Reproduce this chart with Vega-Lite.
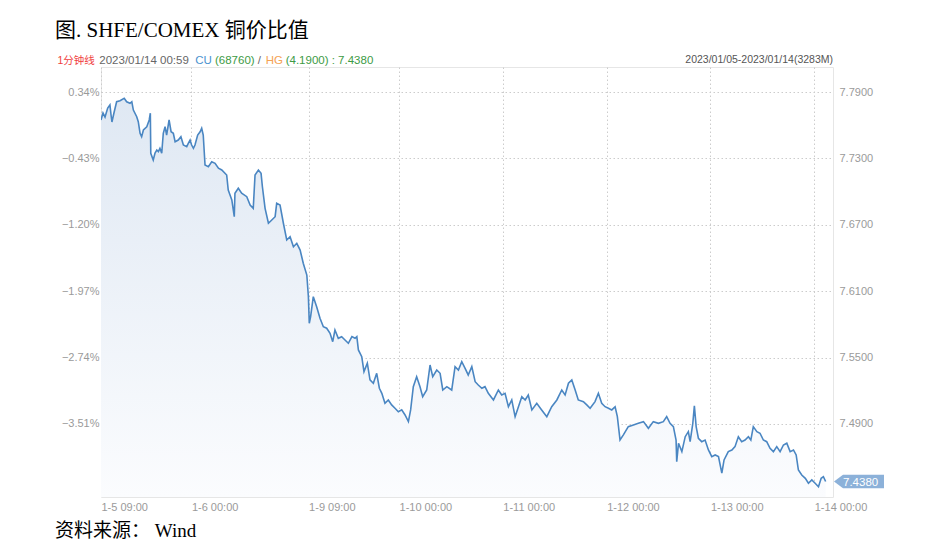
{
  "$schema": "https://vega.github.io/schema/vega-lite/v6.json",
  "width": 732,
  "height": 430,
  "autosize": "none",
  "padding": {"left": 101, "top": 67, "right": 107, "bottom": 60},
  "background": "white",
  "config": {"view": {"stroke": "#e6e6e6"}, "font": "Liberation Sans"},
  "data": {"values": [
    {"m":0,"v":7.7647},{"m":9,"v":7.7710},{"m":18,"v":7.7674},{"m":30,"v":7.7755},{"m":40,"v":7.7783},{"m":45,"v":7.7692},{"m":49,"v":7.7629},{"m":58,"v":7.7710},{"m":70,"v":7.7812},{"m":85,"v":7.7821},{"m":104,"v":7.7843},{"m":115,"v":7.7812},{"m":130,"v":7.7798},{"m":138,"v":7.7812},{"m":145,"v":7.7737},{"m":160,"v":7.7677},{"m":167,"v":7.7632},{"m":175,"v":7.7527},{"m":182,"v":7.7496},{"m":190,"v":7.7557},{"m":205,"v":7.7586},{"m":216,"v":7.7647},{"m":221,"v":7.7708},{"m":223,"v":7.7346},{"m":234,"v":7.7286},{"m":242,"v":7.7349},{"m":250,"v":7.7376},{"m":257,"v":7.7361},{"m":264,"v":7.7391},{"m":272,"v":7.7346},{"m":279,"v":7.7527},{"m":287,"v":7.7586},{"m":294,"v":7.7511},{"m":305,"v":7.7647},{"m":314,"v":7.7541},{"m":324,"v":7.7527},{"m":332,"v":7.7451},{"m":346,"v":7.7466},{"m":358,"v":7.7496},{"m":369,"v":7.7421},{"m":384,"v":7.7406},{"m":391,"v":7.7436},{"m":399,"v":7.7466},{"m":406,"v":7.7421},{"m":414,"v":7.7391},{"m":421,"v":7.7421},{"m":433,"v":7.7511},{"m":444,"v":7.7541},{"m":451,"v":7.7572},{"m":458,"v":7.7511},{"m":466,"v":7.7240},{"m":481,"v":7.7225},{"m":496,"v":7.7270},{"m":511,"v":7.7256},{"m":526,"v":7.7211},{"m":541,"v":7.7195},{"m":563,"v":7.7150},{"m":570,"v":7.7014},{"m":578,"v":7.6969},{"m":586,"v":7.6924},{"m":597,"v":7.6773},{"m":600,"v":7.6985},{"m":615,"v":7.7030},{"m":630,"v":7.6985},{"m":653,"v":7.6954},{"m":668,"v":7.6879},{"m":682,"v":7.6849},{"m":690,"v":7.7150},{"m":705,"v":7.7195},{"m":717,"v":7.7165},{"m":723,"v":7.7044},{"m":735,"v":7.6849},{"m":750,"v":7.6714},{"m":765,"v":7.6743},{"m":780,"v":7.6773},{"m":787,"v":7.6894},{"m":802,"v":7.6879},{"m":817,"v":7.6714},{"m":832,"v":7.6563},{"m":847,"v":7.6593},{"m":862,"v":7.6502},{"m":877,"v":7.6533},{"m":892,"v":7.6472},{"m":906,"v":7.6352},{"m":922,"v":7.6246},{"m":929,"v":7.6050},{"m":933,"v":7.5810},{"m":939,"v":7.5870},{"m":951,"v":7.6050},{"m":966,"v":7.5960},{"m":981,"v":7.5855},{"m":996,"v":7.5779},{"m":1011,"v":7.5765},{"m":1026,"v":7.5720},{"m":1038,"v":7.5644},{"m":1048,"v":7.5749},{"m":1063,"v":7.5674},{"m":1078,"v":7.5689},{"m":1093,"v":7.5659},{"m":1108,"v":7.5629},{"m":1124,"v":7.5689},{"m":1138,"v":7.5674},{"m":1146,"v":7.5689},{"m":1153,"v":7.5569},{"m":1168,"v":7.5508},{"m":1178,"v":7.5373},{"m":1193,"v":7.5449},{"m":1205,"v":7.5298},{"m":1220,"v":7.5268},{"m":1235,"v":7.5358},{"m":1247,"v":7.5223},{"m":1258,"v":7.5177},{"m":1272,"v":7.5087},{"m":1287,"v":7.5117},{"m":1302,"v":7.5072},{"m":1317,"v":7.5042},{"m":1332,"v":7.5011},{"m":1347,"v":7.5027},{"m":1362,"v":7.4981},{"m":1377,"v":7.4921},{"m":1387,"v":7.5027},{"m":1399,"v":7.5237},{"m":1414,"v":7.5327},{"m":1429,"v":7.5237},{"m":1441,"v":7.5147},{"m":1459,"v":7.5207},{"m":1474,"v":7.5433},{"m":1486,"v":7.5327},{"m":1504,"v":7.5388},{"m":1519,"v":7.5358},{"m":1531,"v":7.5207},{"m":1549,"v":7.5237},{"m":1571,"v":7.5207},{"m":1586,"v":7.5418},{"m":1601,"v":7.5388},{"m":1616,"v":7.5463},{"m":1631,"v":7.5403},{"m":1645,"v":7.5343},{"m":1661,"v":7.5418},{"m":1676,"v":7.5282},{"m":1690,"v":7.5252},{"m":1706,"v":7.5223},{"m":1720,"v":7.5237},{"m":1735,"v":7.5177},{"m":1758,"v":7.5117},{"m":1780,"v":7.5207},{"m":1795,"v":7.5162},{"m":1810,"v":7.5177},{"m":1825,"v":7.5056},{"m":1840,"v":7.5117},{"m":1855,"v":7.4966},{"m":1870,"v":7.5056},{"m":1885,"v":7.5147},{"m":1900,"v":7.5117},{"m":1914,"v":7.5162},{"m":1930,"v":7.5027},{"m":1952,"v":7.5087},{"m":1974,"v":7.5027},{"m":1997,"v":7.4966},{"m":2019,"v":7.5056},{"m":2042,"v":7.5117},{"m":2064,"v":7.5207},{"m":2079,"v":7.5162},{"m":2094,"v":7.5268},{"m":2109,"v":7.5298},{"m":2124,"v":7.5207},{"m":2138,"v":7.5117},{"m":2161,"v":7.5102},{"m":2176,"v":7.5072},{"m":2191,"v":7.5042},{"m":2213,"v":7.5102},{"m":2228,"v":7.5177},{"m":2243,"v":7.5087},{"m":2258,"v":7.5056},{"m":2273,"v":7.5042},{"m":2288,"v":7.5027},{"m":2303,"v":7.5056},{"m":2313,"v":7.4966},{"m":2325,"v":7.4755},{"m":2340,"v":7.4801},{"m":2362,"v":7.4876},{"m":2385,"v":7.4891},{"m":2407,"v":7.4906},{"m":2430,"v":7.4921},{"m":2452,"v":7.4861},{"m":2474,"v":7.4921},{"m":2497,"v":7.4906},{"m":2519,"v":7.4921},{"m":2534,"v":7.4966},{"m":2549,"v":7.4906},{"m":2564,"v":7.4876},{"m":2576,"v":7.4755},{"m":2579,"v":7.4559},{"m":2587,"v":7.4726},{"m":2602,"v":7.4650},{"m":2617,"v":7.4785},{"m":2631,"v":7.4831},{"m":2639,"v":7.4740},{"m":2651,"v":7.4906},{"m":2658,"v":7.5063},{"m":2666,"v":7.4876},{"m":2676,"v":7.4771},{"m":2691,"v":7.4740},{"m":2706,"v":7.4755},{"m":2721,"v":7.4665},{"m":2736,"v":7.4605},{"m":2751,"v":7.4620},{"m":2766,"v":7.4605},{"m":2781,"v":7.4455},{"m":2791,"v":7.4575},{"m":2810,"v":7.4650},{"m":2826,"v":7.4665},{"m":2840,"v":7.4695},{"m":2855,"v":7.4785},{"m":2870,"v":7.4740},{"m":2885,"v":7.4755},{"m":2900,"v":7.4785},{"m":2911,"v":7.4755},{"m":2922,"v":7.4876},{"m":2938,"v":7.4831},{"m":2952,"v":7.4816},{"m":2967,"v":7.4755},{"m":2982,"v":7.4740},{"m":2997,"v":7.4680},{"m":3012,"v":7.4650},{"m":3027,"v":7.4695},{"m":3042,"v":7.4650},{"m":3057,"v":7.4710},{"m":3072,"v":7.4726},{"m":3087,"v":7.4650},{"m":3102,"v":7.4665},{"m":3114,"v":7.4620},{"m":3124,"v":7.4484},{"m":3139,"v":7.4439},{"m":3155,"v":7.4409},{"m":3169,"v":7.4364},{"m":3184,"v":7.4394},{"m":3199,"v":7.4364},{"m":3214,"v":7.4333},{"m":3226,"v":7.4409},{"m":3236,"v":7.4424},{"m":3246,"v":7.4380}
  ]},
  "layer": [
    {
      "mark": {"type": "area", "clip": true, "fill": {"gradient": "linear", "x1": 0, "y1": 0, "x2": 0, "y2": 1, "stops": [{"offset": 0, "color": "#dfe8f3"}, {"offset": 1, "color": "#fbfcfe"}]}},
      "encoding": {
        "x": {"field": "m", "type": "quantitative", "scale": {"domain": [0, 3279], "nice": false, "zero": false},
          "axis": {"title": null, "values": [0, 405, 930, 1335, 1800, 2265, 2730, 3195],
            "labelExpr": "datum.value == 0 ? '1-5 09:00' : datum.value == 405 ? '1-6 00:00' : datum.value == 930 ? '1-9 09:00' : datum.value == 1335 ? '1-10 00:00' : datum.value == 1800 ? '1-11 00:00' : datum.value == 2265 ? '1-12 00:00' : datum.value == 2730 ? '1-13 00:00' : '1-14 00:00'",
            "labelAlign": "left", "labelBaseline": "top", "labelPadding": 4, "labelFlush": false, "labelOverlap": false,
            "domain": false, "ticks": false, "grid": true, "gridColor": "#cccccc", "gridDash": [1.5, 2.5],
            "labelColor": "#9a9a9a", "labelFontSize": 11, "labelFont": "Liberation Sans"}},
        "y": {"field": "v", "type": "quantitative", "scale": {"domain": [7.424, 7.8126], "nice": false, "zero": false},
          "axis": {"orient": "left", "title": null, "values": [7.49, 7.55, 7.61, 7.67, 7.73, 7.79],
            "labelExpr": "format((datum.value - 7.79) / 0.06 * 0.77 + 0.34, '.2f') + '%'",
            "domain": false, "ticks": false, "grid": true, "gridColor": "#cccccc", "gridDash": [1.5, 2.5],
            "labelColor": "#9a9a9a", "labelFontSize": 11, "labelPadding": 2, "labelFont": "Liberation Sans"}},
        "y2": {"datum": 7.424}
      }
    },
    {
      "mark": {"type": "line", "color": "#4a86c2", "strokeWidth": 1.6, "clip": true},
      "encoding": {
        "x": {"field": "m", "type": "quantitative",
          "axis": {"title": null, "values": [0, 405, 930, 1335, 1800, 2265, 2730, 3195],
            "labelExpr": "datum.value == 0 ? '1-5 09:00' : datum.value == 405 ? '1-6 00:00' : datum.value == 930 ? '1-9 09:00' : datum.value == 1335 ? '1-10 00:00' : datum.value == 1800 ? '1-11 00:00' : datum.value == 2265 ? '1-12 00:00' : datum.value == 2730 ? '1-13 00:00' : '1-14 00:00'",
            "labelAlign": "left", "labelBaseline": "top", "labelPadding": 4, "labelFlush": false, "labelOverlap": false,
            "domain": false, "ticks": false, "grid": true, "gridColor": "#cccccc", "gridDash": [1.5, 2.5],
            "labelColor": "#9a9a9a", "labelFontSize": 11, "labelFont": "Liberation Sans"}},
        "y": {"field": "v", "type": "quantitative",
          "axis": {"orient": "right", "title": null, "values": [7.49, 7.55, 7.61, 7.67, 7.73, 7.79], "format": ".4f",
            "domain": false, "ticks": false, "grid": false,
            "labelColor": "#9a9a9a", "labelFontSize": 11, "labelPadding": 6, "labelFont": "Liberation Sans"}}
      }
    },
    {
      "transform": [{"filter": "datum.m == 3246"}],
      "mark": {"type": "point", "shape": "M-1,0L-0.64,-0.27L1,-0.27L1,0.27L-0.64,0.27Z", "size": 2500, "filled": true, "fill": "#8cb1d9", "opacity": 1, "x": 758},
      "encoding": {"y": {"field": "v", "type": "quantitative", "axis": null}}
    },
    {
      "transform": [{"filter": "datum.m == 3246"}],
      "mark": {"type": "text", "align": "left", "baseline": "middle", "x": 742, "dy": 1, "color": "#ffffff", "fontSize": 11.5, "font": "Liberation Sans"},
      "encoding": {"y": {"field": "v", "type": "quantitative", "axis": null}, "text": {"field": "v", "type": "quantitative", "format": ".4f"}}
    },
    {"data": {"values": [{}]}, "mark": {"type": "rule", "x": -46, "x2": 782, "y": -17, "y2": -17, "color": "#eeeeee", "strokeWidth": 1}, "encoding": {}},
    {"data": {"values": [{}]}, "mark": {"type": "rule", "x": 67, "x2": 93, "y": -17, "y2": -17, "color": "#d2d2d2", "strokeWidth": 2}, "encoding": {}},
    {"data": {"values": [{}]}, "mark": {"type": "rule", "x": -48, "x2": 0, "y": 430, "y2": 430, "color": "#e6e6e6", "strokeWidth": 1}, "encoding": {}},
    {"data": {"values": [{}]}, "mark": {"type": "rule", "x": 585, "x2": 732, "y": -2, "y2": -2, "color": "#777777", "strokeWidth": 0.8}, "encoding": {}},
    {"data": {"values": [{}]}, "mark": {"type": "text", "text": "图. SHFE/COMEX 铜价比值", "x": -46, "y": -30, "align": "left", "baseline": "alphabetic", "fontSize": 21, "font": "Liberation Serif, Noto Sans CJK SC", "color": "#000000"}},
    {"data": {"values": [{}]}, "mark": {"type": "text", "text": "1分钟线", "x": -43.5, "y": -6, "align": "left", "baseline": "middle", "fontSize": 10.5, "font": "Liberation Sans, Noto Sans CJK SC", "color": "#f03c3c"}},
    {"data": {"values": [{}]}, "mark": {"type": "text", "text": "2023/01/14 00:59", "x": -1.7, "y": -6, "align": "left", "baseline": "middle", "fontSize": 11.5, "font": "Liberation Sans", "color": "#666666"}},
    {"data": {"values": [{}]}, "mark": {"type": "text", "text": "CU", "x": 94.3, "y": -6, "align": "left", "baseline": "middle", "fontSize": 11.5, "font": "Liberation Sans", "color": "#4b93cf"}},
    {"data": {"values": [{}]}, "mark": {"type": "text", "text": "(68760)", "x": 114, "y": -6, "align": "left", "baseline": "middle", "fontSize": 11.5, "font": "Liberation Sans", "color": "#3d9b45"}},
    {"data": {"values": [{}]}, "mark": {"type": "text", "text": "/", "x": 156.7, "y": -6, "align": "left", "baseline": "middle", "fontSize": 11.5, "font": "Liberation Sans", "color": "#666666"}},
    {"data": {"values": [{}]}, "mark": {"type": "text", "text": "HG", "x": 164.7, "y": -6, "align": "left", "baseline": "middle", "fontSize": 11.5, "font": "Liberation Sans", "color": "#f5a254"}},
    {"data": {"values": [{}]}, "mark": {"type": "text", "text": "(4.1900) : 7.4380", "x": 184.7, "y": -6, "align": "left", "baseline": "middle", "fontSize": 11.5, "font": "Liberation Sans", "color": "#3d9b45"}},
    {"data": {"values": [{}]}, "mark": {"type": "text", "text": "2023/01/05-2023/01/14(3283M)", "x": 732, "y": -7, "align": "right", "baseline": "middle", "fontSize": 10.5, "font": "Liberation Sans", "color": "#555555"}},
    {"data": {"values": [{}]}, "mark": {"type": "text", "text": "资料来源： Wind", "x": -46, "y": 470, "align": "left", "baseline": "alphabetic", "fontSize": 19, "font": "Liberation Serif, Noto Sans CJK SC", "color": "#000000"}}
  ],
  "resolve": {"axis": {"y": "independent"}}
}
